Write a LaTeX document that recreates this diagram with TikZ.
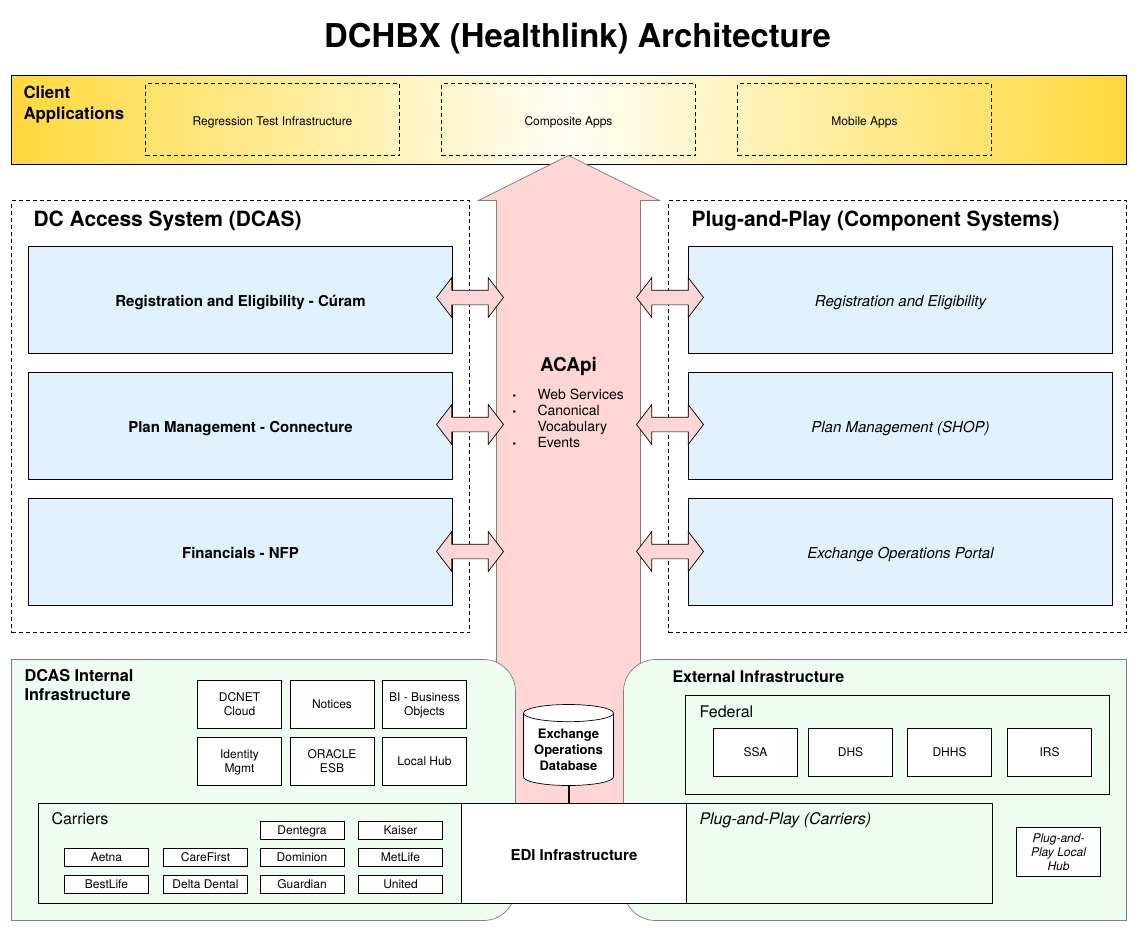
\documentclass[tikz,border=0pt]{standalone}
\usepackage{fontspec}
\setmainfont{TeX Gyre Heros}
\usetikzlibrary{shapes.geometric,shapes.arrows}
\definecolor{barYellow}{HTML}{FFD93B}
\definecolor{barWhite}{HTML}{FFFEF6}
\definecolor{sysBlue}{HTML}{E0F1FF}
\definecolor{apiPink}{HTML}{FFD6D6}
\definecolor{infraGreen}{HTML}{EEFCF1}
\newcommand{\fs}[1]{\fontsize{#1}{#1}\selectfont}
\newcommand{\fsl}[2]{\fontsize{#1}{#2}\selectfont}
\tikzset{
	every node/.style={inner sep=0,outer sep=0,align=center,text depth=0pt},
	appbox/.style={draw,dashed,dash pattern=on 4pt off 3pt,minimum width=254,minimum height=72,text height=11pt,font=\fs{12}},
	sectionbox/.style={draw,dashed,dash pattern=on 4pt off 3pt,minimum width=458,minimum height=432},
	sysbox/.style={draw,fill=sysBlue,minimum width=424,minimum height=107,text height=13pt},
	syslabel/.style={font=\fs{15}\bfseries},
	plugbox/.style={sysbox,font=\fs{15}\itshape},
	linkarrow/.style={draw,fill=apiPink,double arrow,minimum width=39,minimum height=67,inner sep=7pt,text height=0pt,double arrow head extend=12.5,double arrow tip angle=105},
	infrabox/.style={draw,fill=white,minimum width=84,minimum height=48,font=\fsl{12}{14}},
	carrierbox/.style={draw,fill=white,minimum width=84,minimum height=18,font=\fs{12}},
	head/.style={anchor=west,font=\fs{21}\bfseries},
	subhead/.style={anchor=west,align=left,font=\fs{16}\bfseries},
	panel/.style={draw=black!50,fill=infraGreen},
}
\begin{document}
\begin{tikzpicture}[x=1pt,y=-1pt,line width=.7pt]
	\useasboundingbox (0.5,0.5) rectangle (1138.5,932.5);
	\node[font=\fs{32.8}\bfseries] (title) at (578,36) {DCHBX (Healthlink) Architecture};
	% client bar
	\node[draw,minimum width=1115,minimum height=89,left color=barYellow,right color=barYellow,middle color=barWhite] (client) at (569.5,120.5) {};
	\node[anchor=north west,align=left,font=\fsl{16.8}{21}\bfseries] (clienttext) at (24,86) {Client\\Applications};
	\node[appbox] (regression) at (273,120) {Regression Test Infrastructure};
	\node[appbox] (composite) at (569,120) {Composite Apps};
	\node[appbox] (mobile) at (865,120) {Mobile Apps};
	% the two dashed sections
	\node[sectionbox] (dcas) at (241,417) {};
	\node[sectionbox] (plug) at (898,417) {};
	\node[head] (dcastext) at (34,219) {DC Access System (DCAS)};
	\node[head] (plugtext) at (692,219) {Plug-and-Play (Component Systems)};
	% big arrow
	\draw[draw=black!50,fill=apiPink] (569,156) -- (660,201) -- (641,201) -- (641,810) -- (497,810) -- (497,201) -- (479,201) -- cycle;
	\node[font=\fs{19}\bfseries] (acapi) at (569,365) {ACApi};
	\node[anchor=north west,align=left,font=\fsl{14}{16}] (acapitext) at (513,389.5) {%
		\makebox[25pt][l]{\fs{10}\textbullet}Web Services\\
		\makebox[25pt][l]{\fs{10}\textbullet}Canonical\\
		\makebox[25pt][l]{}Vocabulary\\
		\makebox[25pt][l]{\fs{10}\textbullet}Events};
	% systems
	\node[sysbox,syslabel] (regdc) at (241,300.5) {Registration and Eligibility - Cúram};
	\node[sysbox,syslabel] (plandc) at (241,426.5) {Plan Management - Connecture};
	\node[sysbox,syslabel] (findc) at (241,552.5) {Financials - NFP};
	\node[plugbox] (regplug) at (901,300.5) {Registration and Eligibility};
	\node[plugbox] (planplug) at (901,426.5) {Plan Management (SHOP)};
	\node[plugbox] (opsplug) at (901,552.5) {Exchange Operations Portal};
	\node[linkarrow] (la) at (470.5,298) {};
	\node[linkarrow] (lb) at (470.5,425) {};
	\node[linkarrow] (lc) at (470.5,552) {};
	\node[linkarrow] (ra) at (670.5,298) {};
	\node[linkarrow] (rb) at (670.5,425) {};
	\node[linkarrow] (rc) at (670.5,552) {};
	% infrastructure panels
	\draw[panel] (12,921) [sharp corners] -- (12,660) [rounded corners=32pt] -- (516,660) -- (516,921) [sharp corners] -- cycle;
	\draw[panel] (1127,921) [sharp corners] -- (1127,660) [rounded corners=32pt] -- (624,660) -- (624,921) [sharp corners] -- cycle;
	\node[subhead,anchor=north west,font=\fsl{16.3}{19}\bfseries] (dcasinfra) at (25,669.5) {DCAS Internal\\Infrastructure};
	\node[subhead] (extinfra) at (673,677) {External Infrastructure};
	\node[infrabox] (dcnet) at (240,705) {DCNET\\Cloud};
	\node[infrabox] (notices) at (332.5,705) {Notices};
	\node[infrabox] (bi) at (425,705) {BI - Business\\Objects};
	\node[infrabox] (identity) at (240,762) {Identity\\Mgmt};
	\node[infrabox] (oracle) at (332.5,762) {ORACLE\\ESB};
	\node[infrabox] (hub) at (425,762) {Local Hub};
	\node[draw,minimum width=424,minimum height=99] (federal) at (898,745.5) {};
	\node[anchor=west,font=\fs{16}] (federaltext) at (700,712) {Federal};
	\node[infrabox] (ssa) at (756,753) {SSA};
	\node[infrabox] (dhs) at (851,753) {DHS};
	\node[infrabox] (dhhs) at (950,753) {DHHS};
	\node[infrabox] (irs) at (1050,753) {IRS};
	% carriers row
	\node[draw,fill=infraGreen,minimum width=423,minimum height=100] (carriers) at (250.5,854) {};
	\node[draw,fill=white,minimum width=225,minimum height=100,text height=13.5pt,font=\fs{15}\bfseries] (edi) at (574.5,854) {EDI Infrastructure};
	\node[draw,fill=infraGreen,minimum width=306,minimum height=100] (plugcarriers) at (840,854) {};
	\node[anchor=west,font=\fs{16}] (carrierstext) at (52,819.5) {Carriers};
	\node[anchor=west,font=\fs{16}\itshape] (plugcarrierstext) at (700,819.5) {Plug-and-Play (Carriers)};
	\node[carrierbox] (dentegra) at (302.5,831) {Dentegra};
	\node[carrierbox] (kaiser) at (401,831) {Kaiser};
	\node[carrierbox] (aetna) at (107,858) {Aetna};
	\node[carrierbox] (carefirst) at (206,858) {CareFirst};
	\node[carrierbox] (dominion) at (302.5,858) {Dominion};
	\node[carrierbox] (metlife) at (401,858) {MetLife};
	\node[carrierbox] (bestlife) at (107,885) {BestLife};
	\node[carrierbox] (delta) at (206,885) {Delta Dental};
	\node[carrierbox] (guardian) at (302.5,885) {Guardian};
	\node[carrierbox] (united) at (401,885) {United};
	\node[draw,fill=white,minimum width=84,minimum height=49,font=\fsl{12}{14}\itshape] (localhub) at (1059,852.5) {Plug-and-\\Play Local\\Hub};
	% database
	\node[draw,fill=white,cylinder,shape border rotate=90,shape aspect=.25,minimum width=90,minimum height=81,anchor=south,font=\fsl{13}{16}\bfseries] (db) at (569,786) {Exchange\\Operations\\Database};
	\draw[line width=2pt] (db.south) -- (569,804);
\end{tikzpicture}
\end{document}
